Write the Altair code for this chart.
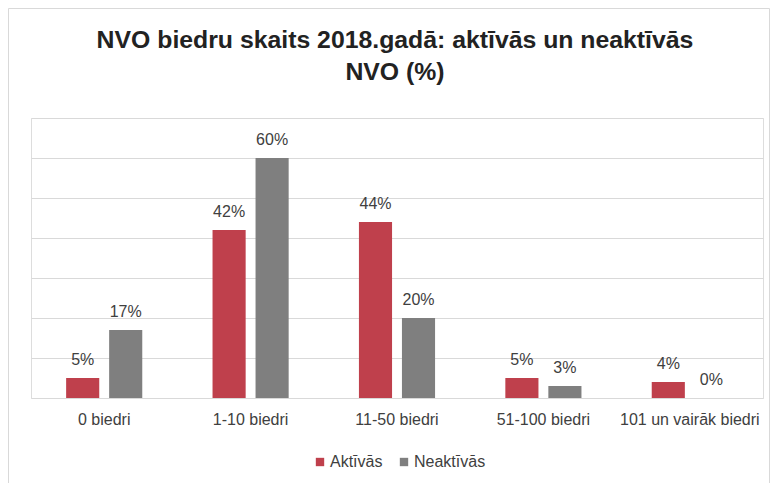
import altair as alt
import pandas as pd

categories = ["0 biedri", "1-10 biedri", "11-50 biedri", "51-100 biedri", "101 un vairāk biedri"]
series = ["Aktīvās", "Neaktīvās"]
aktivas = [5, 42, 44, 5, 4]
neaktivas = [17, 60, 20, 3, 0]
colors = ["#BF404C", "#7F7F7F"]
grid_values = [0, 10, 20, 30, 40, 50, 60, 70]
title_lines = ["NVO biedru skaits 2018.gadā: aktīvās un neaktīvās", "NVO (%)"]

rows = []
for c, a, n in zip(categories, aktivas, neaktivas):
    rows.append({"Kategorija": c, "Grupa": series[0], "Vertiba": a, "Label": f"{a}%"})
    rows.append({"Kategorija": c, "Grupa": series[1], "Vertiba": n, "Label": f"{n}%"})
df = pd.DataFrame(rows)

FONT = "Liberation Sans, Arial"
FS = 16

x_enc = alt.X("Kategorija:N", sort=categories,
              scale=alt.Scale(paddingInner=0.48, paddingOuter=0.24),
              axis=alt.Axis(title=None, labelAngle=0, ticks=False, domain=False,
                            labelPadding=13, labelFontSize=FS, labelFont=FONT,
                            labelColor="#404040", labelOverlap=False, labelLimit=300))
xo_enc = alt.XOffset("Grupa:N", sort=series, scale=alt.Scale(paddingInner=0.23, paddingOuter=0))
y_enc = alt.Y("Vertiba:Q", scale=alt.Scale(domain=[0, 70], nice=False),
              axis=alt.Axis(title=None, labels=False, ticks=False, domain=False,
                            grid=True, gridColor="#D9D9D9", gridWidth=1, values=grid_values))

bars = alt.Chart(df).mark_bar().encode(
    x=x_enc, xOffset=xo_enc, y=y_enc,
    color=alt.Color("Grupa:N", sort=series,
                    scale=alt.Scale(domain=series, range=colors),
                    legend=alt.Legend(title=None, orient="none", direction="horizontal",
                                      legendX=281, legendY=336,
                                      symbolType="square", symbolSize=70, symbolStrokeWidth=0,
                                      labelFont=FONT, labelFontSize=FS, labelColor="#404040",
                                      labelOffset=2, columnPadding=13)),
)

labels = alt.Chart(df).mark_text(baseline="alphabetic", dy=-13, fontSize=FS, font=FONT,
                                 color="#404040").encode(
    x=x_enc, xOffset=xo_enc, y=y_enc, text="Label:N")

frame = alt.Chart(pd.DataFrame({"k": [0]})).mark_rect(fill=None, stroke="#D9D9D9", strokeWidth=1).encode(
    x=alt.value(-22.5), x2=alt.value(738.5), y=alt.value(-109.5), y2=alt.value(420))

title_parts = []
for i, (line, ypos) in enumerate(zip(title_lines, [-70, -38])):
    title_parts.append(
        alt.Chart(pd.DataFrame({"t": [line]})).mark_text(
            fontSize=24.8, font="Liberation Sans", fontWeight="bold",
            color="#222222", baseline="alphabetic", align="center").encode(
            text="t:N", x=alt.value(364), y=alt.value(ypos))
    )

chart = alt.layer(frame, bars, labels, *title_parts).properties(
    width=732, height=280,
    autosize=alt.AutoSizeParams(type="none"),
    padding={"left": 23, "top": 110, "right": 8, "bottom": 85},
).configure_view(stroke=None).configure(background="white")

chart.save("out.html", embed_options={"renderer": "svg", "actions": False})
